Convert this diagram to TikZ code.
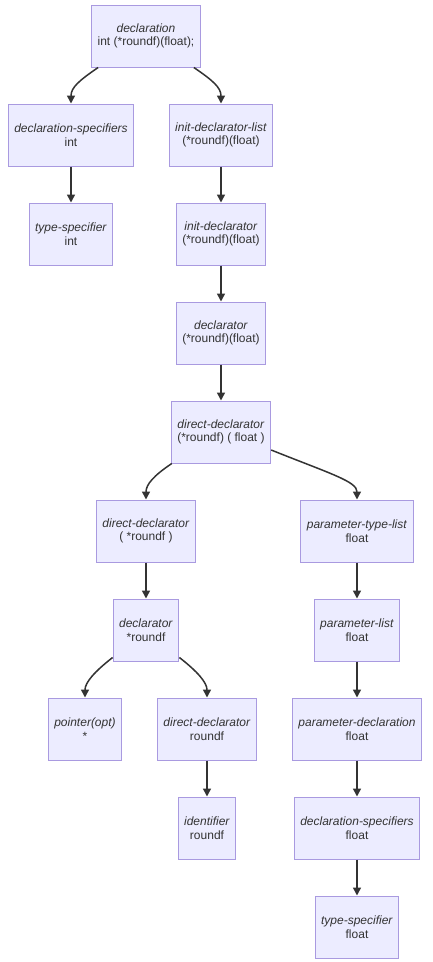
\documentclass[tikz,border=0pt]{standalone}
\usepackage{fontspec}
\setmainfont{Liberation Sans}
\usetikzlibrary{arrows.meta,calc}
\definecolor{nodefill}{HTML}{ECECFF}
\definecolor{nodeline}{HTML}{A99AE0}
\definecolor{txt}{HTML}{333333}
\tikzset{
  box/.style={draw=nodeline, fill=nodefill, line width=1pt, minimum height=62pt,
    inner xsep=6pt, inner ysep=2pt, align=center, text=txt,
    font=\fontsize{12}{13.5}\selectfont},
  conn/.style={draw=txt, line width=1.5pt, -{Triangle[length=8pt,width=8pt]}}
}
\newcommand{\lab}[2]{\textit{#1}\\#2}
\begin{document}
\begin{tikzpicture}[x=1pt,y=-1pt]
\useasboundingbox[fill=white] (0,0) rectangle (432,962);
\node[box, minimum width=108pt] (decl)  at (146,36)  {\lab{declaration}{int (*roundf)(float);}};
\node[box, minimum width=124pt] (ds1)   at (71,135)  {\lab{declaration-specifiers}{int}};
\node[box, minimum width=102pt] (idl)   at (221,135) {\lab{init-declarator-list}{(*roundf)(float)}};
\node[box, minimum width=82pt]  (ts1)   at (71,234)  {\lab{type-specifier}{int}};
\node[box, minimum width=88pt]  (id)    at (221,234) {\lab{init-declarator}{(*roundf)(float)}};
\node[box, minimum width=88pt]  (dr1)   at (221,333) {\lab{declarator}{(*roundf)(float)}};
\node[box, minimum width=98pt]  (dd1)   at (221,432) {\lab{direct-declarator}{(*roundf) ( float )}};
\node[box, minimum width=98pt]  (dd2)   at (146,531) {\lab{direct-declarator}{( *roundf )}};
\node[box, minimum width=111pt] (ptl)   at (357,531) {\lab{parameter-type-list}{float}};
\node[box, minimum width=64pt]  (dr2)   at (146,630) {\lab{declarator}{*roundf}};
\node[box, minimum width=84pt]  (pl)    at (357,630) {\lab{parameter-list}{float}};
\node[box, minimum width=72pt]  (ptr)   at (85,729)  {\lab{pointer(opt)}{*}};
\node[box, minimum width=98pt]  (dd3)   at (207,729) {\lab{direct-declarator}{roundf}};
\node[box, minimum width=127pt] (pd)    at (357,729) {\lab{parameter-declaration}{float}};
\node[box, minimum width=57pt]  (ident) at (207,828) {\lab{identifier}{roundf}};
\node[box, minimum width=124pt] (ds2)   at (357,828) {\lab{declaration-specifiers}{float}};
\node[box, minimum width=82pt]  (ts2)   at (357,927) {\lab{type-specifier}{float}};

\draw[conn] ($(decl.south west)+(7,0)$) .. controls +(-19,13) and +(0,-16) .. (ds1.north);
\draw[conn] ($(decl.south east)+(-7,0)$) .. controls +(19,13) and +(0,-16) .. (idl.north);
\draw[conn] (ds1) -- (ts1);
\draw[conn] (idl) -- (id);
\draw[conn] (id) -- (dr1);
\draw[conn] (dr1) -- (dd1);
\draw[conn] ($(dd1.south west)+(1,0)$) .. controls +(-18,12) and +(0,-15) .. (dd2.north);
\draw[conn] ($(dd1.east)+(0,18)$) .. controls +(60,24) and +(0,-18) .. (ptl.north);
\draw[conn] (dd2) -- (dr2);
\draw[conn] (ptl) -- (pl);
\draw[conn] (pl) -- (pd);
\draw[conn] (pd) -- (ds2);
\draw[conn] (ds2) -- (ts2);
\draw[conn] ($(dr2.south west)+(0,-4)$) .. controls +(-18,14) and +(0,-15) .. (ptr.north);
\draw[conn] ($(dr2.south east)+(0,-4)$) .. controls +(18,14) and +(0,-15) .. (dd3.north);
\draw[conn] (dd3) -- (ident);
\end{tikzpicture}
\end{document}
